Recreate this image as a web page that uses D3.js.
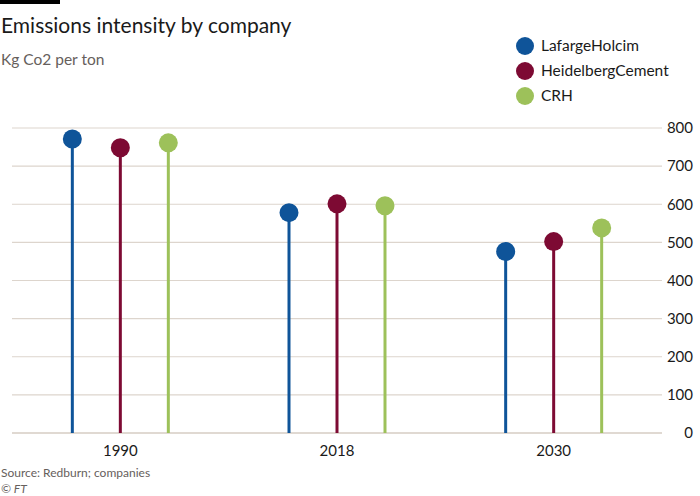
<!DOCTYPE html>
<html>
<head>
<meta charset="utf-8">
<script src="https://cdn.jsdelivr.net/npm/d3@7"></script>
<style>
  body { margin: 0; background: #fff; }
  text { font-family: "Lato", "Roboto", sans-serif; }
</style>
</head>
<body>
<div id="chart"></div>
<script>
var years = ["1990", "2018", "2030"];
var companies = ["LafargeHolcim", "HeidelbergCement", "CRH"];
var lafarge = [771, 578, 476];
var heidelberg = [748, 601, 502];
var crh = [761, 596, 538];
var yTicks = [0, 100, 200, 300, 400, 500, 600, 700, 800];
var colors = ["#0f5499", "#7d0a33", "#9dc15a"];

var width = 700, height = 496;
var margin = {top: 128, right: 38, bottom: 63, left: 12};

var svg = d3.select("#chart").append("svg")
    .attr("width", width)
    .attr("height", height);

// header
svg.append("rect").attr("x", 0).attr("y", 0).attr("width", 60).attr("height", 4).attr("fill", "#000");
svg.append("text").attr("x", 1).attr("y", 33)
    .style("font-size", "21px").attr("fill", "#1a1a1a")
    .text("Emissions intensity by company");
svg.append("text").attr("x", 1).attr("y", 65)
    .style("font-size", "15.5px").attr("fill", "#66605c")
    .text("Kg Co2 per ton");

var x = d3.scaleBand().domain(years).range([margin.left, width - margin.right]);
var xs = d3.scalePoint().domain(companies)
    .range([x.bandwidth() / 2 - 48, x.bandwidth() / 2 + 48]);
var y = d3.scaleLinear().domain([0, 800]).range([height - margin.bottom, margin.top]);

// grid + right axis
var yAxis = d3.axisRight(y).tickValues(yTicks).tickSize(0).tickPadding(0);
var gy = svg.append("g")
    .attr("transform", "translate(" + (width - 7) + ",0)")
    .call(yAxis);
gy.select(".domain").remove();
gy.selectAll("text")
    .attr("text-anchor", "end")
    .style("font-size", "15px")
    .attr("fill", "#1a1a1a");

svg.append("g").selectAll("line")
    .data(yTicks)
    .enter().append("line")
    .attr("x1", margin.left)
    .attr("x2", width - margin.right)
    .attr("y1", function(d) { return y(d); })
    .attr("y2", function(d) { return y(d); })
    .attr("stroke", function(d) { return d === 0 ? "#e0d9d2" : "#ddd5cd"; })
    .attr("stroke-width", function(d) { return d === 0 ? 2 : 1.2; });

var xAxis = d3.axisBottom(x).tickSize(0).tickPadding(12);
var gx = svg.append("g")
    .attr("transform", "translate(0," + (height - margin.bottom) + ")")
    .call(xAxis);
gx.select(".domain").remove();
gx.selectAll("text").style("font-size", "15px").attr("fill", "#1a1a1a");

var data = [];
years.forEach(function(yr, i) {
  data.push({year: yr, company: companies[0], value: lafarge[i], c: colors[0]});
  data.push({year: yr, company: companies[1], value: heidelberg[i], c: colors[1]});
  data.push({year: yr, company: companies[2], value: crh[i], c: colors[2]});
});

var lolly = svg.append("g").selectAll("g")
    .data(data)
    .enter().append("g")
    .attr("transform", function(d) { return "translate(" + (x(d.year) + xs(d.company)) + ",0)"; });

lolly.append("line")
    .attr("y1", y(0))
    .attr("y2", function(d) { return y(d.value); })
    .attr("stroke", function(d) { return d.c; })
    .attr("stroke-width", 3);

lolly.append("circle")
    .attr("cy", function(d) { return y(d.value); })
    .attr("r", 9.5)
    .attr("fill", function(d) { return d.c; });

// legend
var legend = svg.append("g").selectAll("g")
    .data(companies)
    .enter().append("g")
    .attr("transform", function(d, i) { return "translate(525," + (46 + i * 25) + ")"; });
legend.append("circle").attr("r", 9).attr("fill", function(d, i) { return colors[i]; });
legend.append("text").attr("x", 16).attr("dy", "0.35em")
    .style("font-size", "15.5px").attr("fill", "#1a1a1a")
    .text(function(d) { return d; });

// footer
svg.append("text").attr("x", 1).attr("y", 477)
    .style("font-size", "12px").attr("fill", "#66605c")
    .text("Source: Redburn; companies");
svg.append("text").attr("x", 1).attr("y", 493)
    .style("font-size", "12px").attr("fill", "#66605c").style("font-style", "italic")
    .text("\u00a9 FT");
</script>
</body>
</html>
